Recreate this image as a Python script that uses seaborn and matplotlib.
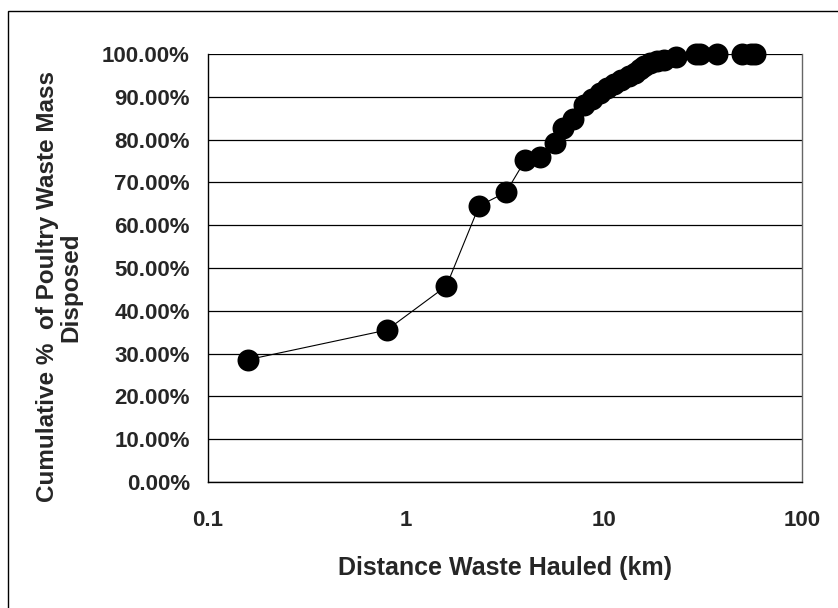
import numpy as np
import pandas as pd
import matplotlib
matplotlib.use("Agg")
import matplotlib.pyplot as plt
from matplotlib.patches import Rectangle
from matplotlib.ticker import FixedLocator, FuncFormatter, NullLocator
import seaborn as sns

# distance hauled (km) and cumulative share of poultry waste mass (%)
distance_km = [0.16, 0.80, 1.6, 2.34, 3.2, 4.0, 4.75, 5.66, 6.2, 7.0,
               7.9, 8.7, 9.5, 10.3, 11.2, 12.2, 13.3, 14.3, 15.2, 16.0,
               17.0, 18.5, 20.0, 23.0, 29.0, 30.5, 37.0, 50.0, 55.0, 58.0]
cum_pct = [28.6, 35.5, 45.8, 64.5, 67.7, 75.2, 76.0, 79.1, 82.6, 84.9,
           88.0, 89.6, 91.0, 92.0, 93.0, 94.0, 94.8, 95.6, 96.4, 97.3,
           97.9, 98.4, 98.7, 99.4, 99.9, 100.0, 100.0, 100.0, 100.0, 100.0]

x_ticks = [0.1, 1, 10, 100]
x_tick_labels = ["0.1", "1", "10", "100"]
y_ticks = [0, 10, 20, 30, 40, 50, 60, 70, 80, 90, 100]

df = pd.DataFrame({"dist": distance_km, "pct": cum_pct})

sns.set_style("white")
plt.rcParams["font.family"] = ["Liberation Sans", "DejaVu Sans"]
plt.rcParams["font.weight"] = "bold"

fig = plt.figure(figsize=(8.38, 6.08), dpi=100)
ax = fig.add_axes([208 / 838, 1 - 482 / 608, (802 - 208) / 838, (482 - 54) / 608])

# gridlines at every 10 %
for v in y_ticks:
    ax.axhline(v, color="black", lw=0.9, zorder=1)

sns.lineplot(data=df, x="dist", y="pct", sort=False, estimator=None,
             color="black", lw=0.8, ax=ax, zorder=2)
sns.scatterplot(data=df, x="dist", y="pct", s=250, color="black",
                edgecolor="black", linewidth=0, ax=ax, zorder=3, clip_on=False)

ax.set_xscale("log")
ax.set_xlim(0.1, 100)
ax.set_ylim(0, 100)
ax.xaxis.set_major_locator(FixedLocator(x_ticks))
ax.xaxis.set_minor_locator(NullLocator())
ax.set_xticklabels(x_tick_labels)
ax.yaxis.set_major_locator(FixedLocator(y_ticks))
ax.yaxis.set_major_formatter(FuncFormatter(lambda v, p: f"{v:.2f}%"))

ax.tick_params(axis="both", direction="out", length=6, width=1, color="black",
               labelsize=16)
ax.tick_params(axis="x", pad=14)
ax.tick_params(axis="y", pad=7)
for lab in ax.get_xticklabels() + ax.get_yticklabels():
    lab.set_fontweight("bold")

for side in ["left", "bottom"]:
    ax.spines[side].set_color("black")
    ax.spines[side].set_linewidth(1)
ax.spines["top"].set_visible(False)
ax.spines["right"].set_color("#666666")
ax.spines["right"].set_linewidth(1)

ax.set_xlabel("Distance Waste Hauled (km)", fontsize=18, fontweight="bold")
ax.xaxis.set_label_coords(0.5, -0.172)
ax.set_ylabel("Cumulative %  of Poultry Waste Mass\nDisposed", fontsize=17.5,
              fontweight="bold", linespacing=1.0)
ax.yaxis.set_label_coords(-0.212, 0.456)

# chart area border
fig.add_artist(Rectangle((8 / 838, -0.05), 1.0, 0.9824 + 0.05,
                         transform=fig.transFigure, fill=False,
                         lw=1, ec="black"))

fig.savefig("out.png", dpi=100)
